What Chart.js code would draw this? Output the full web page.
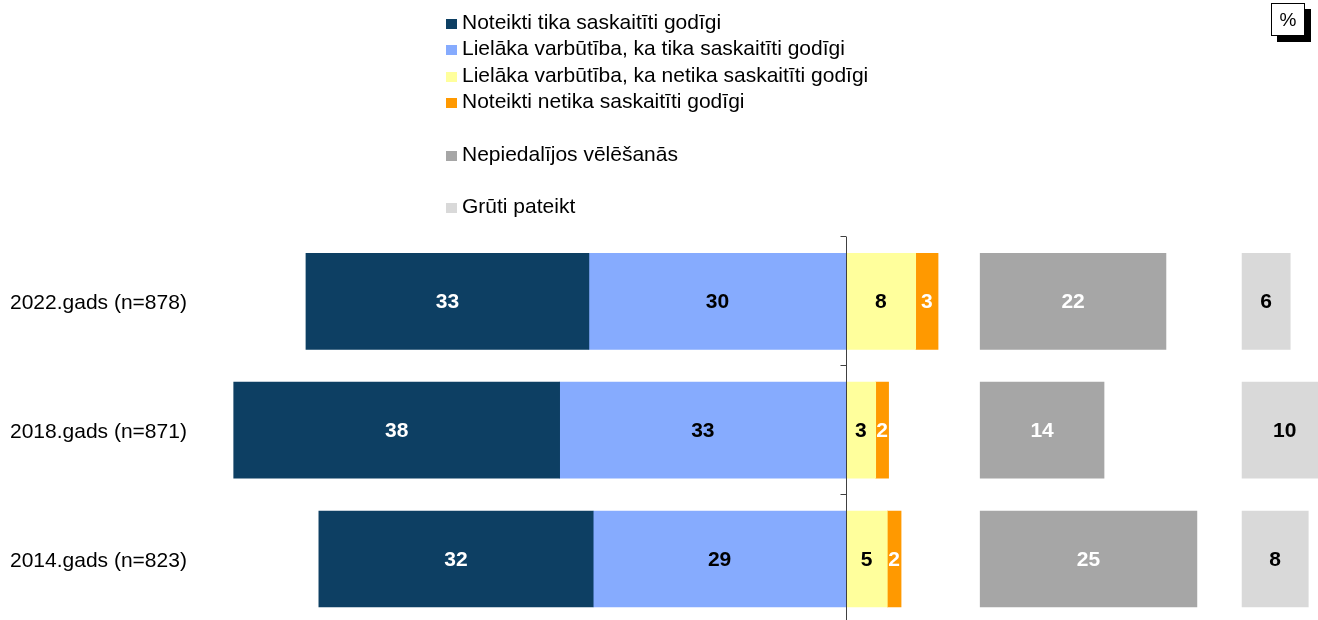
<!DOCTYPE html>
<html><head><meta charset="utf-8">
<script src="https://cdn.jsdelivr.net/npm/chart.js@4.4.0/dist/chart.umd.min.js"></script>
<style>
html,body{margin:0;padding:0;background:#fff;overflow:hidden;width:1318px;height:620px;}
#wrap{position:absolute;left:0;top:0;width:1318px;height:636px;}
.leg{position:absolute;left:446px;font:21px 'Liberation Sans',Arial,sans-serif;line-height:24px;color:#000;white-space:nowrap;}
.sq{display:inline-block;width:11px;height:10px;margin-right:5px;vertical-align:baseline;}
#pct{position:absolute;left:1271px;top:3px;width:32px;height:31px;border:1px solid #000;background:#fff;box-shadow:6px 6px 0 #000;font:19px 'Liberation Sans',Arial,sans-serif;text-align:center;line-height:31px;color:#000;}
</style>
</head><body>
<div id="wrap"><canvas id="c" width="1318" height="636"></canvas></div>
<div id="legend"></div>
<div id="pct">%</div>
<script>
// ---- data ----
const categories = ['2022.gads (n=878)', '2018.gads (n=871)', '2014.gads (n=823)'];
const seriesNames = [
  'Noteikti tika saskaitīti godīgi',
  'Lielāka varbūtība, ka tika saskaitīti godīgi',
  'Lielāka varbūtība, ka netika saskaitīti godīgi',
  'Noteikti netika saskaitīti godīgi',
  'Nepiedalījos vēlēšanās',
  'Grūti pateikt'
];
const definitelyHonest = [32.9, 37.9, 31.9];
const likelyHonest = [29.9, 33.3, 29.4];
const likelyNotHonest = [8.1, 3.45, 4.8];
const definitelyNotHonest = [2.6, 1.5, 1.6];
const didNotVote = [21.6, 14.4, 25.2];
const hardToSay = [5.6, 9.9, 7.7];

// ---- layout / style ----
const FONT = "'Liberation Sans', Arial, sans-serif";
const colors = ['#0D3F63', '#86ABFE', '#FFFF9C', '#FF9900', '#A6A6A6', '#D9D9D9'];
const labelColors = ['#fff', '#000', '#000', '#fff', '#fff', '#000'];
const grayStart = 15.6, lightStart = 46.05;
const legendTops = [10, 36, 63, 89, 142, 194];

// legend (HTML)
const legEl = document.getElementById('legend');
seriesNames.forEach((n, i) => {
  const d = document.createElement('div');
  d.className = 'leg';
  d.style.top = legendTops[i] + 'px';
  d.innerHTML = '<span class="sq" style="background:' + colors[i] + '"></span>' + n;
  legEl.appendChild(d);
});

const segs = [
  definitelyHonest.map((v, i) => [-(v + likelyHonest[i]), -likelyHonest[i]]),
  likelyHonest.map(v => [-v, 0]),
  likelyNotHonest.map(v => [0, v]),
  definitelyNotHonest.map((v, i) => [likelyNotHonest[i], likelyNotHonest[i] + v]),
  didNotVote.map(v => [grayStart, grayStart + v]),
  hardToSay.map(v => [lightStart, lightStart + v])
];
const raw = [definitelyHonest, likelyHonest, likelyNotHonest, definitelyNotHonest, didNotVote, hardToSay];

const centerLine = {
  id: 'centerLine',
  afterDatasetsDraw(chart) {
    const ctx = chart.ctx, x = chart.scales.x, y = chart.scales.y;
    const x0 = Math.round(x.getPixelForValue(0)) + 0.5;
    const band = (y.bottom - y.top) / categories.length;
    ctx.save();
    ctx.strokeStyle = '#404040';
    ctx.lineWidth = 1;
    ctx.beginPath();
    ctx.moveTo(x0, y.top);
    ctx.lineTo(x0, y.bottom);
    for (let i = 0; i < categories.length; i++) {
      const ty = Math.round(y.top + band * i) - 0.5;
      ctx.moveTo(x0 - 6, ty);
      ctx.lineTo(x0, ty);
    }
    ctx.stroke();
    // value labels
    ctx.font = 'bold 21px ' + FONT;
    ctx.textAlign = 'center';
    ctx.textBaseline = 'middle';
    chart.data.datasets.forEach((ds, di) => {
      const meta = chart.getDatasetMeta(di);
      meta.data.forEach((el, i) => {
        ctx.fillStyle = labelColors[di];
        ctx.fillText(String(Math.round(raw[di][i])), (el.x + el.base) / 2, el.y + 1);
      });
    });
    ctx.restore();
  }
};

new Chart(document.getElementById('c'), {
  type: 'bar',
  data: {
    labels: categories,
    datasets: seriesNames.map((n, i) => ({
      label: n,
      data: segs[i],
      backgroundColor: colors[i],
      borderWidth: 0,
      grouped: false,
      barThickness: 96
    }))
  },
  options: {
    indexAxis: 'y',
    responsive: false,
    animation: false,
    devicePixelRatio: 1,
    layout: { padding: { left: 10, top: 237, right: 0, bottom: 0 } },
    plugins: { legend: { display: false }, tooltip: { enabled: false } },
    scales: {
      x: { type: 'linear', min: -75.12, max: 54.88, display: false },
      y: {
        grid: { display: false },
        border: { display: false },
        ticks: { crossAlign: 'far', color: '#000', padding: 0, labelOffset: 2, font: { size: 21, family: FONT } },
        afterFit(s) { s.width = 190; }
      }
    }
  },
  plugins: [centerLine]
});
</script>
</body></html>
